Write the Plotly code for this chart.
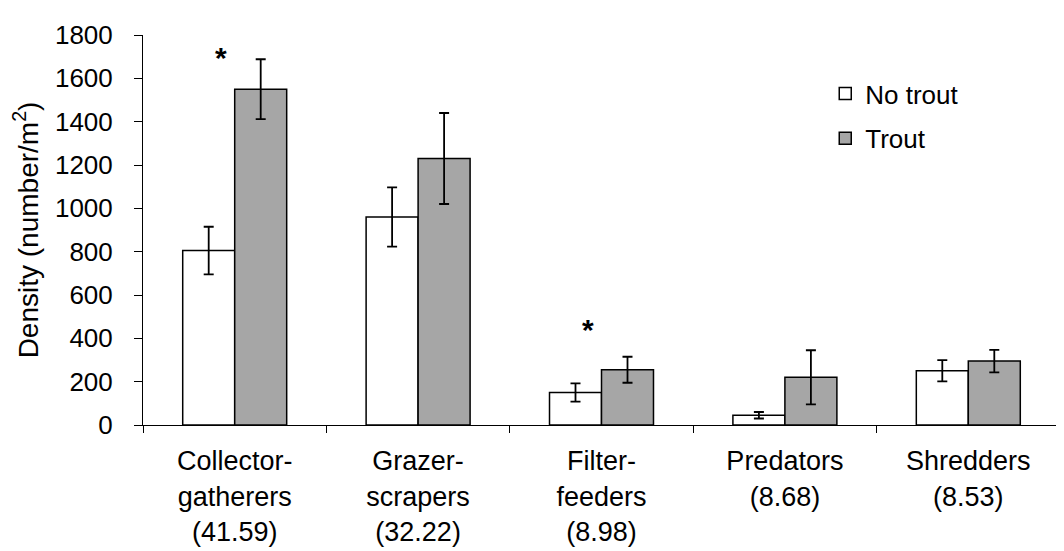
import plotly.graph_objects as go

# ---- data ----
tick_labels = [
    "Collector-<br>gatherers<br>(41.59)",
    "Grazer-<br>scrapers<br>(32.22)",
    "Filter-<br>feeders<br>(8.98)",
    "Predators<br>(8.68)",
    "Shredders<br>(8.53)",
]
no_trout = [805, 960, 150, 45, 250]
no_trout_err = [110, 137, 42, 15, 49]
trout = [1550, 1230, 255, 220, 295]
trout_err = [138, 210, 60, 125, 52]
# significance markers (category, y value)
sig_cats = [tick_labels[0], tick_labels[2]]
sig_y = [1734, 478]

FONT = "Liberation Sans, Arial, sans-serif"

fig = go.Figure()
fig.add_trace(go.Bar(
    name="No trout", x=tick_labels, y=no_trout, legendgroup="a",
    marker=dict(color="white", line=dict(color="black", width=1.5)),
    error_y=dict(type="data", array=no_trout_err, visible=True,
                 color="black", thickness=1.8, width=5),
))
fig.add_trace(go.Bar(
    name="Trout", x=tick_labels, y=trout, legendgroup="b",
    marker=dict(color="#A6A6A6", line=dict(color="black", width=1.5)),
    error_y=dict(type="data", array=trout_err, visible=True,
                 color="black", thickness=1.8, width=5),
))

for c, yv in zip(sig_cats, sig_y):
    fig.add_annotation(x=c, y=yv, text="<b>*</b>", showarrow=False,
                       xshift=-14, yshift=-8, yanchor="middle",
                       font=dict(family=FONT, size=30, color="black"))

fig.update_layout(
    width=1064, height=551, autosize=False,
    margin=dict(l=135, r=12, t=25, b=116),
    plot_bgcolor="white", paper_bgcolor="white",
    barmode="group", bargap=0.433, bargroupgap=0,
    font=dict(family=FONT, color="black"),
    showlegend=True,
    legend=dict(x=0.744, y=0.91, xanchor="left", yanchor="top",
                font=dict(family=FONT, size=26, color="black"),
                bgcolor="rgba(0,0,0,0)", tracegroupgap=8,
                traceorder="grouped"),
)
fig.update_xaxes(
    showline=True, linecolor="black", linewidth=1,
    ticks="outside", tickson="boundaries", ticklen=7, tickcolor="black",
    tickfont=dict(family=FONT, size=27, color="black"),
    ticklabelstandoff=12, showgrid=False, zeroline=False,
)
fig.update_yaxes(
    range=[0, 1800], dtick=200, showline=True, linecolor="black", linewidth=1,
    ticks="outside", ticklen=8, tickcolor="black",
    tickfont=dict(family=FONT, size=26, color="black"),
    ticklabelstandoff=16, showgrid=False, zeroline=False,
    title=dict(text="Density (number/m<sup>2</sup>)", standoff=10,
               font=dict(family=FONT, size=28, color="black")),
)

fig.write_html("out.html")
